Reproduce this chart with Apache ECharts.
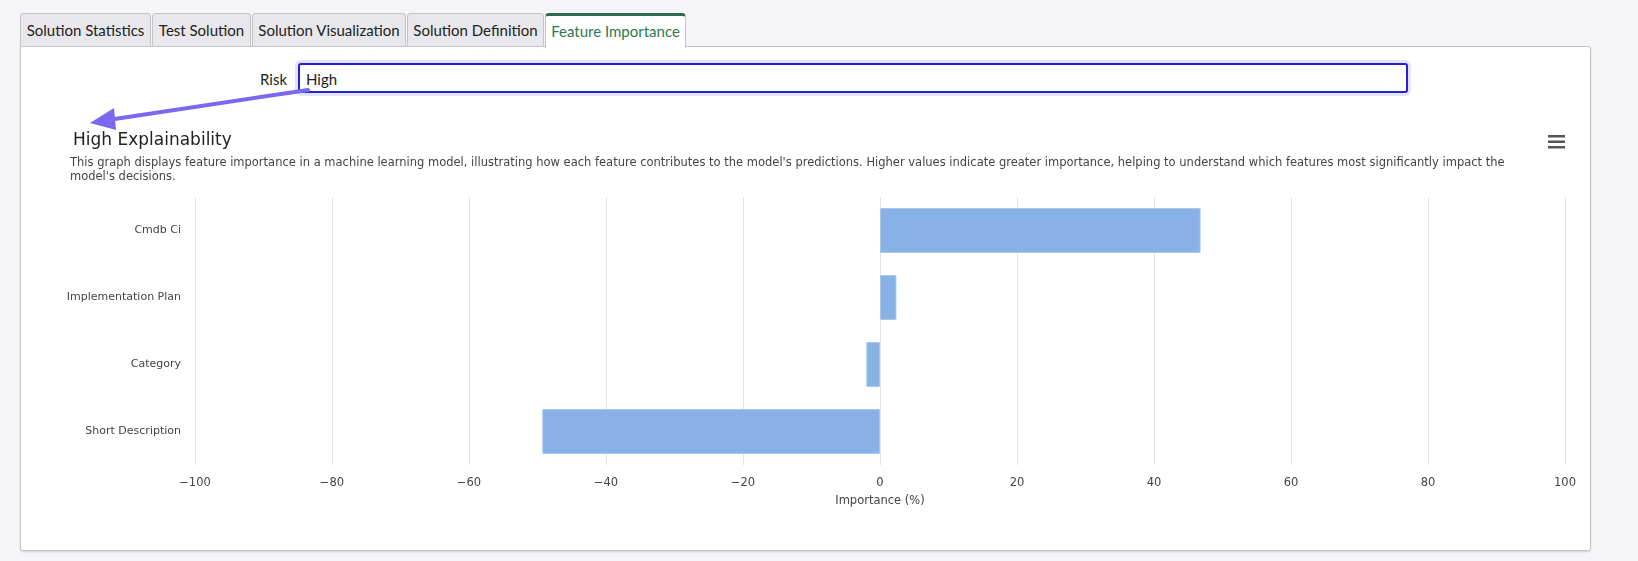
<!DOCTYPE html>
<html>
<head>
<meta charset="utf-8">
<script src="https://cdn.jsdelivr.net/npm/echarts@6/dist/echarts.min.js"></script>
<style>
  body { margin: 0; background: #f5f5f7; font-family: Lato, sans-serif; }
  #wrap { position: relative; width: 1638px; height: 561px; overflow: hidden; }
  .tab { position: absolute; top: 13px; height: 33px; background: #e8e8ec; border: 1px solid #c4c4c8;
         border-bottom: none; border-radius: 4px 4px 0 0; font-size: 15px; color: #222;
         line-height: 33px; text-align: center; box-sizing: border-box; }
  .tab.active { background: #fff; color: #2c7a4b; border-top: 3px solid #2f6b52; height: 35px; line-height: 30px; z-index: 2; }
  #panel { position: absolute; left: 20px; top: 46px; width: 1569px; height: 503px; background: #fff;
           border: 1px solid #c4c4c8; border-radius: 0 3px 3px 3px; box-shadow: 0 1px 2px rgba(0,0,0,0.15); }
  #risk { position: absolute; left: 260px; top: 70px; font-size: 15px; color: #222; }
  #inp { position: absolute; left: 298px; top: 63px; width: 1110px; height: 30px; box-sizing: border-box;
         border: 2px solid #2121d6; border-radius: 3px; font-size: 15px; padding: 5px 6px; color: #222;
         box-shadow: 0 0 0 3px #e3e3fb; background: #fff; }
  #chart { position: absolute; left: 0; top: 0; width: 1638px; height: 561px; }
  svg { position: absolute; left: 0; top: 0; }
</style>
</head>
<body>
<div id="wrap">
  <div id="panel"></div>
  <div class="tab" style="left:20px;width:131px">Solution Statistics</div>
  <div class="tab" style="left:152px;width:99px">Test Solution</div>
  <div class="tab" style="left:252px;width:154px">Solution Visualization</div>
  <div class="tab" style="left:407px;width:137px">Solution Definition</div>
  <div class="tab active" style="left:545px;width:141px">Feature Importance</div>
  <div id="risk">Risk</div>
  <div id="inp">High</div>
  <div id="chart"></div>
  <svg width="1638" height="561">
    <line x1="308" y1="90" x2="108" y2="120" stroke="#7b68f0" stroke-width="4" stroke-linecap="round"/>
    <polygon points="90,123 114,108 116,130" fill="#7b68f0"/>
  </svg>
</div>
<script>
const categories = ['Cmdb Ci', 'Implementation Plan', 'Category', 'Short Description'];
const importance = [46.8, 2.4, -2.0, -49.3];
const xTicks = { min: -100, max: 100, interval: 20 };

const chart = echarts.init(document.getElementById('chart'));
chart.setOption({
  animation: false,
  textStyle: { fontFamily: 'DejaVu Sans' },
  title: {
    text: 'High Explainability',
    left: 68, top: 127,
    textStyle: { fontSize: 17, fontWeight: 'normal', color: '#222', fontFamily: 'DejaVu Sans' }
  },
  graphic: [
    { type: 'text', left: 70, top: 156, style: {
      text: "This graph displays feature importance in a machine learning model, illustrating how each feature contributes to the model's predictions. Higher values indicate greater importance, helping to understand which features most significantly impact the\nmodel's decisions.",
      fontSize: 11.5, fill: '#444', lineHeight: 14, fontFamily: 'DejaVu Sans' } },
    { type: 'group', left: 1548, top: 135, children: [
      { type: 'rect', shape: { x: 0, y: 0, width: 17, height: 2.5 }, style: { fill: '#555' } },
      { type: 'rect', shape: { x: 0, y: 5.5, width: 17, height: 2.5 }, style: { fill: '#555' } },
      { type: 'rect', shape: { x: 0, y: 11, width: 17, height: 2.5 }, style: { fill: '#555' } }
    ] }
  ],
  grid: { left: 195, right: 73, top: 197, bottom: 96 },
  xAxis: {
    type: 'value', min: xTicks.min, max: xTicks.max, interval: xTicks.interval,
    name: 'Importance (%)', nameLocation: 'middle', nameGap: 30,
    nameTextStyle: { fontSize: 11.5, color: '#444' },
    axisLabel: { fontSize: 11.5, color: '#444', margin: 12, formatter: v => String(v).replace('-', '\u2212') },
    axisLine: { show: false }, axisTick: { show: false },
    splitLine: { lineStyle: { color: '#e4e4e4' } }
  },
  yAxis: {
    type: 'category', data: categories, inverse: true,
    axisLabel: { fontSize: 11, color: '#444', margin: 14 },
    axisLine: { show: false }, axisTick: { show: false }
  },
  series: [{
    type: 'bar', data: importance, barCategoryGap: '33%',
    itemStyle: { color: '#88b2e6', borderColor: '#a9c7ee', borderWidth: 1 }
  }]
});
</script>
</body>
</html>
